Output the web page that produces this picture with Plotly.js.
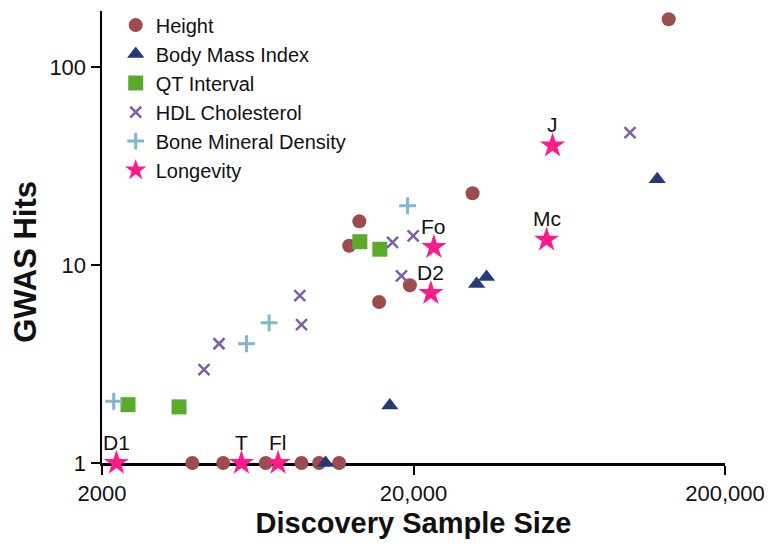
<!DOCTYPE html>
<html>
<head>
<meta charset="utf-8">
<script src="https://cdn.plot.ly/plotly-3.0.1.min.js"></script>
<style>html,body{margin:0;padding:0;background:#fff;}#chart{width:778px;height:553px;}</style>
</head>
<body>
<div id="chart"></div>
<script>
// Data
const heightX = [3900, 4900, 6710, 8740, 9950, 11540, 13400, 12430, 19470, 15510, 30950, 131900];
const heightY = [1, 1, 1, 1, 1, 1, 16.6, 12.5, 7.9, 6.5, 23, 174];

const bmiX = [10440, 16790, 31880, 34320, 121200];
const bmiY = [1, 1.95, 8.0, 8.7, 27.1];

const qtX = [2424, 3534, 13450, 15590];
const qtY = [1.97, 1.92, 13.1, 12.0];

const hdlX = [4250, 4750, 8630, 8740, 17130, 18300, 19950, 99080];
const hdlY = [2.96, 4.0, 7.0, 5.0, 13.0, 8.8, 14.0, 46.6];

const bmdX = [2181, 5820, 6880, 19140];
const bmdY = [2.05, 4.0, 5.1, 19.9];

const longX = [2225, 5608, 7350, 23250, 22740, 53490, 55920];
const longY = [1, 1, 1, 12.3, 7.2, 13.4, 40.0];
const longLabels = ['D1', 'T', 'Fl', 'Fo', 'D2', 'Mc', 'J'];

const xTickVals = [2000, 20000, 200000];
const xTickText = ['2000', '20,000', '200,000'];
const yTickVals = [1, 10, 100];
const yTickText = ['1', '10', '100'];

const FONT = 'Liberation Sans, Arial, Helvetica, sans-serif';

const traces = [
  {name: 'Height', x: heightX, y: heightY, mode: 'markers', type: 'scatter', cliponaxis: false,
   marker: {symbol: 'circle', size: 14, color: '#9c4c4c'}},
  {name: 'Body Mass Index', x: bmiX, y: bmiY, mode: 'markers', type: 'scatter', cliponaxis: false,
   marker: {symbol: 'triangle-up', size: 15, color: '#243a78'}},
  {name: 'QT Interval', x: qtX, y: qtY, mode: 'markers', type: 'scatter', cliponaxis: false,
   marker: {symbol: 'square', size: 15, color: '#5aab2c'}},
  {name: 'HDL Cholesterol', x: hdlX, y: hdlY, mode: 'markers', type: 'scatter', cliponaxis: false,
   marker: {symbol: 'x-thin-open', size: 11, color: '#7c5fa6', line: {color: '#7c5fa6', width: 2.5}}},
  {name: 'Bone Mineral Density', x: bmdX, y: bmdY, mode: 'markers', type: 'scatter', cliponaxis: false,
   marker: {symbol: 'cross-thin-open', size: 12, color: '#80b8c8', line: {color: '#80b8c8', width: 3}}},
  {name: 'Longevity', x: longX, y: longY, mode: 'markers', type: 'scatter', cliponaxis: false,
   marker: {symbol: 'star', size: 19, color: '#ff1a8c', line: {width: 0}}}
];

const annotations = longLabels.map((t, i) => ({
  x: Math.log10(longX[i]), y: Math.log10(longY[i]), xref: 'x', yref: 'y',
  text: t, showarrow: false, xanchor: 'center', yanchor: 'middle', yshift: 21,
  font: {family: FONT, size: 21, color: '#111'}
}));
annotations.push({
  text: 'GWAS Hits', xref: 'paper', yref: 'paper', x: -0.122, y: 0.445,
  xanchor: 'center', yanchor: 'middle', showarrow: false, textangle: -90,
  font: {family: FONT, size: 31, color: '#111', weight: 'bold'}
});

const layout = {
  width: 778, height: 553,
  margin: {l: 102, r: 53, t: 11, b: 90, autoexpand: false},
  paper_bgcolor: '#fff', plot_bgcolor: '#fff',
  font: {family: FONT, color: '#111'},
  showlegend: true,
  annotations: annotations,
  legend: {x: 0.022, y: 1.012, xanchor: 'left', yanchor: 'top', bgcolor: 'rgba(0,0,0,0)',
           font: {family: FONT, size: 20, color: '#111'}, traceorder: 'normal'},
  xaxis: {type: 'log', range: [Math.log10(2000), Math.log10(200000)],
          tickvals: xTickVals, ticktext: xTickText,
          showgrid: false, zeroline: false, showline: true, linecolor: '#000', linewidth: 2.5,
          ticks: 'outside', ticklen: 9, tickwidth: 2, tickcolor: '#000',
          tickfont: {family: FONT, size: 22, color: '#111'},
          layer: 'below traces',
          title: {text: 'Discovery Sample Size', font: {family: FONT, size: 29, color: '#111', weight: 'bold'}, standoff: 8}},
  yaxis: {type: 'log', range: [0, 2.282],
          tickvals: yTickVals, ticktext: yTickText,
          showgrid: false, zeroline: false, showline: true, linecolor: '#000', linewidth: 2.5,
          ticks: 'outside', ticklen: 9, tickwidth: 2, tickcolor: '#000',
          tickfont: {family: FONT, size: 22, color: '#111'},
          layer: 'below traces'}
};

Plotly.newPlot('chart', traces, layout, {displayModeBar: false, staticPlot: true});
</script>
</body>
</html>
